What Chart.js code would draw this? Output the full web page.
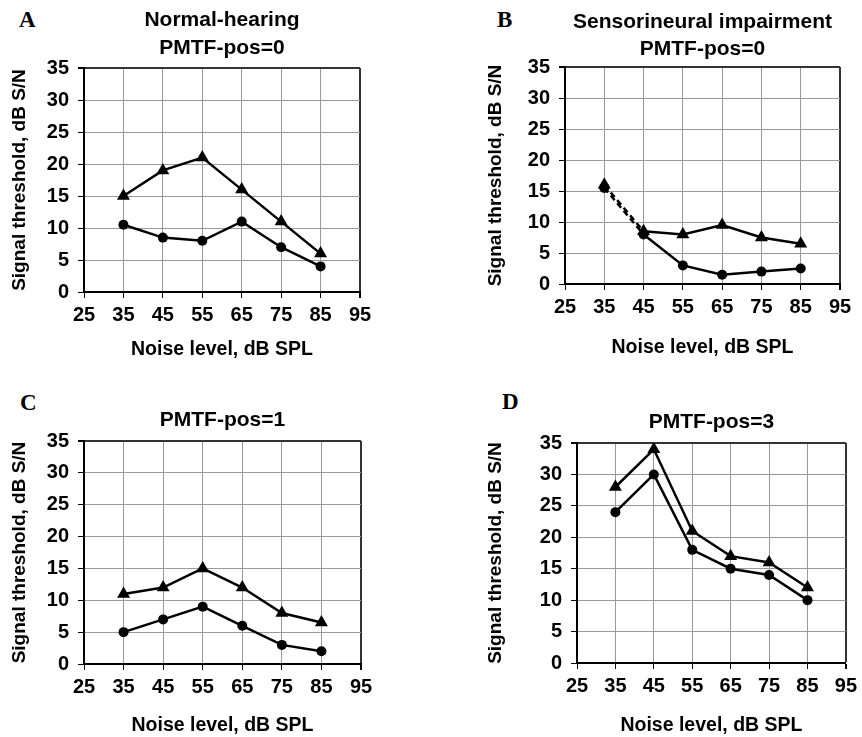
<!DOCTYPE html>
<html>
<head>
<meta charset="utf-8">
<script src="https://cdn.jsdelivr.net/npm/chart.js@4.4.1/dist/chart.umd.min.js"></script>
<style>
  body { margin: 0; background: #fff; }
  #wrap { position: relative; width: 862px; height: 737px; overflow: hidden; }
  .panel { position: absolute; }
  .letter {
    position: absolute;
    font-family: "Liberation Serif", "Times New Roman", serif;
    font-weight: bold;
    font-size: 23px;
    color: #000;
  }
</style>
</head>
<body>
<div id="wrap">
  <div class="letter" style="left:19px;top:7px;">A</div>
  <div class="letter" style="left:497px;top:7px;">B</div>
  <div class="letter" style="left:20px;top:390px;">C</div>
  <div class="letter" style="left:502px;top:389px;">D</div>
  <canvas id="chartA" class="panel" style="left:0;top:0;"></canvas>
  <canvas id="chartB" class="panel" style="left:431px;top:0;"></canvas>
  <canvas id="chartC" class="panel" style="left:0;top:368px;"></canvas>
  <canvas id="chartD" class="panel" style="left:431px;top:368px;"></canvas>
</div>
<script>
// noise levels (x values)
const noiseLevels = [35, 45, 55, 65, 75, 85];
const xTicks = [25, 35, 45, 55, 65, 75, 85, 95];
const yTicks = [0, 5, 10, 15, 20, 25, 30, 35];

// A - normal hearing, PMTF-pos=0
const normalTriangles = [15, 19, 21, 16, 11, 6];
const normalCircles = [10.5, 8.5, 8, 11, 7, 4];
// B - sensorineural, PMTF-pos=0
const sniTriangles = [16, 8.5, 8, 9.5, 7.5, 6.5];
const sniCircles = [15.5, 8, 3, 1.5, 2, 2.5];
// C - PMTF-pos=1
const pos1Triangles = [11, 12, 15, 12, 8, 6.5];
const pos1Circles = [5, 7, 9, 6, 3, 2];
// D - PMTF-pos=3
const pos3Triangles = [28, 34, 21, 17, 16, 12];
const pos3Circles = [24, 30, 18, 15, 14, 10];

const FONT = 'Liberation Sans, Arial, sans-serif';

function pts(vals) {
  return vals.map((v, i) => ({ x: noiseLevels[i], y: v }));
}

function series(vals, style, dashFirst) {
  return {
    data: pts(vals),
    borderColor: '#000',
    backgroundColor: '#000',
    borderWidth: 2.5,
    pointStyle: style,
    pointRadius: style === 'triangle' ? 7.5 : 5,
    pointBorderWidth: 0,
    tension: 0,
    segment: {
      borderDash: ctx => (dashFirst && ctx.p0DataIndex === 0) ? [6, 4] : undefined
    }
  };
}

function makeChart(id, p) {
  const cv = document.getElementById(id);
  cv.width = p.w; cv.height = p.h;
  cv.style.width = p.w + 'px'; cv.style.height = p.h + 'px';
  return new Chart(cv, {
    type: 'line',
    data: {
      datasets: [
        series(p.tri, 'triangle', p.dash),
        series(p.cir, 'circle', p.dash)
      ]
    },
    options: {
      responsive: false,
      animation: false,
      layout: { padding: { left: 0, right: p.w - p.right, top: 0, bottom: 0 } },
      plugins: {
        legend: { display: false },
        tooltip: { enabled: false },
        title: {
          display: true,
          text: p.title,
          fullSize: false,
          color: '#000',
          font: { family: FONT, size: 21, weight: 'bold', lineHeight: p.titleLH / 21 },
          padding: { top: p.titlePadTop, bottom: p.titlePadBottom }
        }
      },
      scales: {
        x: {
          type: 'linear',
          min: 25, max: 95,
          afterBuildTicks: s => { s.ticks = xTicks.map(v => ({ value: v })); },
          afterFit: s => { s.height = p.h - p.bottom; },
          grid: {
            color: c => c.tick && c.tick.value === 95 ? '#333' : '#999',
            lineWidth: c => c.tick && c.tick.value === 95 ? 2 : 1,
            tickColor: '#000',
            tickLength: 6
          },
          border: { color: '#000', width: 2 },
          ticks: {
            color: '#000',
            padding: 5,
            maxRotation: 0,
            font: { family: FONT, size: 20, weight: 'bold' }
          },
          title: {
            display: true,
            text: 'Noise level, dB SPL',
            color: '#000',
            font: { family: FONT, size: 19.5, weight: 'bold' },
            padding: { top: 0, bottom: p.xTitlePad }
          }
        },
        y: {
          type: 'linear',
          min: 0, max: 35,
          afterBuildTicks: s => { s.ticks = yTicks.map(v => ({ value: v })); },
          afterFit: s => { s.width = p.left; },
          grid: {
            color: c => c.tick && c.tick.value === 35 ? '#333' : '#999',
            lineWidth: c => c.tick && c.tick.value === 35 ? 2 : 1,
            tickColor: '#000',
            tickLength: 6
          },
          border: { color: '#000', width: 2 },
          ticks: {
            color: '#000',
            padding: 9,
            font: { family: FONT, size: 20, weight: 'bold' }
          },
          title: {
            display: true,
            text: 'Signal threshold, dB S/N',
            color: '#000',
            font: { family: FONT, size: 19, weight: 'bold' },
            padding: { top: p.yTitlePad, bottom: 0 }
          }
        }
      }
    }
  });
}

makeChart('chartA', {
  w: 431, h: 368, left: 84, right: 360, bottom: 292,
  title: ['Normal-hearing', 'PMTF-pos=0'], titleLH: 28, titlePadTop: 6, titlePadBottom: 6,
  xTitlePad: 7, yTitlePad: 8,
  tri: normalTriangles, cir: normalCircles, dash: false
});
makeChart('chartB', {
  w: 431, h: 368, left: 134, right: 409, bottom: 284,
  title: ['Sensorineural impairment', 'PMTF-pos=0'], titleLH: 27, titlePadTop: 9, titlePadBottom: 4,
  xTitlePad: 9, yTitlePad: 53,
  tri: sniTriangles, cir: sniCircles, dash: true
});
makeChart('chartC', {
  w: 431, h: 369, left: 84, right: 361, bottom: 296,
  title: 'PMTF-pos=1', titleLH: 28, titlePadTop: 38, titlePadBottom: 7,
  xTitlePad: 0, yTitlePad: 8,
  tri: pos1Triangles, cir: pos1Circles, dash: false
});
makeChart('chartD', {
  w: 431, h: 369, left: 146, right: 421, bottom: 295,
  title: 'PMTF-pos=3', titleLH: 28, titlePadTop: 40, titlePadBottom: 7,
  xTitlePad: 0, yTitlePad: 53,
  tri: pos3Triangles, cir: pos3Circles, dash: false
});
</script>
</body>
</html>
